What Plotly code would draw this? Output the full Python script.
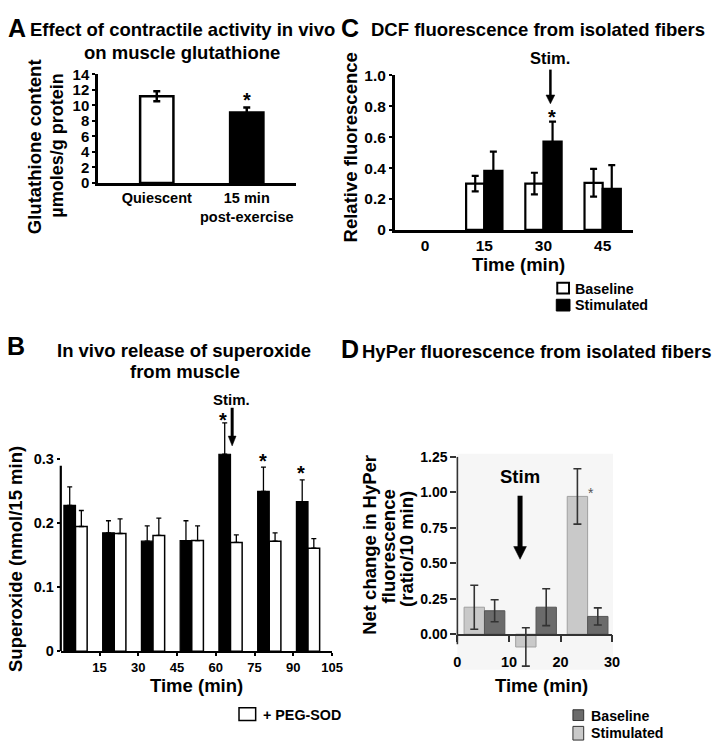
import plotly.graph_objects as go

W, H = 722, 751
FONT = "Liberation Sans, Arial, sans-serif"

# ---------------- data ----------------
# Panel A
a_categories = ["Quiescent", "15 min<br>post-exercise"]
a_values = [11.2, 9.1]
a_errors = [0.65, 0.65]
a_ticks = [0, 2, 4, 6, 8, 10, 12, 14]

# Panel B (interval start times, min)
b_time = [0, 15, 30, 45, 60, 75, 90]
b_control = [0.228, 0.185, 0.172, 0.173, 0.308, 0.250, 0.234]
b_control_err = [0.029, 0.019, 0.024, 0.031, 0.049, 0.038, 0.034]
b_pegsod = [0.195, 0.184, 0.181, 0.173, 0.170, 0.172, 0.161]
b_pegsod_err = [0.025, 0.023, 0.027, 0.023, 0.012, 0.013, 0.015]
b_xticks = [15, 30, 45, 60, 75, 90, 105]
b_yticks = [0, 0.1, 0.2, 0.3]
b_yticktext = ["0", "0.1", "0.2", "0.3"]

# Panel C
c_time = [0, 15, 30, 45]
c_baseline = [None, 0.30, 0.30, 0.305]
c_baseline_err = [None, 0.05, 0.07, 0.09]
c_stim = [None, 0.382, 0.571, 0.266]
c_stim_err = [None, 0.125, 0.13, 0.153]
c_yticks = [0, 0.2, 0.4, 0.6, 0.8, 1.0]
c_yticktext = ["0", "0.2", "0.4", "0.6", "0.8", "1.0"]

# Panel D (interval start times, min)
d_time = [0, 10, 20]
d_stim = [0.19, -0.09, 0.97]
d_stim_err = [0.155, 0.135, 0.195]
d_baseline = [0.165, 0.19, 0.125]
d_baseline_err = [0.077, 0.13, 0.06]
d_yticks = [0, 0.25, 0.5, 0.75, 1.0, 1.25]
d_xticks = [0, 10, 20, 30]


def px(x):
    return x / W


def py(y):
    return 1 - y / H


def f(size, color="black", bold=True):
    return dict(family=FONT, size=size, color=color, weight="bold" if bold else "normal")


fig = go.Figure()

# ---------------- Panel A ----------------
fig.add_trace(go.Bar(
    x=a_categories, y=a_values, width=0.37,
    marker=dict(color=["white", "black"], line=dict(color="black", width=2.5)),
    error_y=dict(type="data", array=a_errors, color="black", thickness=2.5, width=3.5),
    xaxis="x", yaxis="y", showlegend=False,
))

# ---------------- Panel C ----------------
fig.add_trace(go.Bar(
    x=c_time, y=c_baseline, offset=-4.6, width=4.6, name="Baseline",
    marker=dict(color="white", line=dict(color="black", width=2.2)),
    error_y=dict(type="data", array=c_baseline_err, color="black", thickness=2.2, width=3.5),
    xaxis="x2", yaxis="y2", showlegend=False,
))
fig.add_trace(go.Bar(
    x=c_time, y=c_stim, offset=0, width=4.6, name="Stimulated",
    marker=dict(color="black", line=dict(color="black", width=2.2)),
    error_y=dict(type="data", array=c_stim_err, color="black", thickness=2.2, width=3.5),
    xaxis="x2", yaxis="y2", showlegend=False,
))

# ---------------- Panel B ----------------
zeros_b = [0] * len(b_time)
fig.add_trace(go.Bar(
    x=b_time, y=b_control, offset=1.2, width=4.5, name="Control",
    marker=dict(color="black", line=dict(color="black", width=1.2)),
    error_y=dict(type="data", symmetric=False, array=b_control_err, arrayminus=zeros_b,
                 color="black", thickness=1.3, width=2.5),
    xaxis="x3", yaxis="y3", showlegend=False,
))
fig.add_trace(go.Bar(
    x=b_time, y=b_pegsod, offset=5.7, width=4.5, name="+ PEG-SOD",
    marker=dict(color="white", line=dict(color="black", width=1.5)),
    error_y=dict(type="data", symmetric=False, array=b_pegsod_err, arrayminus=zeros_b,
                 color="black", thickness=1.3, width=2.5),
    xaxis="x3", yaxis="y3", showlegend=False,
))

# ---------------- Panel D ----------------
fig.add_trace(go.Bar(
    x=d_time, y=d_stim, offset=1.3, width=3.95, name="Stimulated",
    marker=dict(color="#c9c9c9", line=dict(color="#a0a0a0", width=1)),
    error_y=dict(type="data", array=d_stim_err, color="#333333", thickness=1.6, width=4),
    xaxis="x4", yaxis="y4", showlegend=False,
))
fig.add_trace(go.Bar(
    x=d_time, y=d_baseline, offset=5.25, width=3.95, name="Baseline",
    marker=dict(color="#6b6b6b", line=dict(color="#555555", width=1)),
    error_y=dict(type="data", array=d_baseline_err, color="#333333", thickness=1.6, width=4),
    xaxis="x4", yaxis="y4", showlegend=False,
))

# ---------------- axes ----------------
layout = dict(
    width=W, height=H,
    margin=dict(l=0, r=0, t=0, b=0),
    paper_bgcolor="white", plot_bgcolor="rgba(0,0,0,0)",
    barmode="overlay",
    font=dict(family=FONT, color="black"),
    showlegend=False,
)

# A
layout["xaxis"] = dict(
    domain=[px(96), px(298)], anchor="y", type="category", range=[-0.653, 1.545],
    showline=True, linecolor="black", linewidth=2.5, ticks="", showgrid=False,
    tickfont=f(14.5), zeroline=False,
)
layout["yaxis"] = dict(
    domain=[py(178), py(67)], anchor="x", range=[0, 14], tickvals=a_ticks,
    showline=True, linecolor="black", linewidth=2.5, ticks="outside", ticklen=3,
    tickwidth=1.5, tickcolor="black", showgrid=False, zeroline=False, tickfont=f(15),
)
# C
layout["xaxis2"] = dict(
    domain=[px(399), px(642)], anchor="y2", range=[-7.7, 52.6], tickvals=c_time,
    showline=True, linecolor="black", linewidth=2.5, ticks="", showgrid=False,
    zeroline=False, tickfont=f(15.5),
)
layout["yaxis2"] = dict(
    domain=[py(226), py(68)], anchor="x2", range=[0, 1.0], tickvals=c_yticks,
    ticktext=c_yticktext, showline=True, linecolor="black", linewidth=2.5,
    ticks="outside", ticklen=3, tickwidth=1.5, tickcolor="black", showgrid=False,
    zeroline=False, tickfont=f(15.5),
)
# B
layout["xaxis3"] = dict(
    domain=[px(58), px(335)], anchor="y3", range=[0, 105], tickvals=b_xticks,
    showline=True, linecolor="black", linewidth=2.2, ticks="outside", ticklen=3,
    tickwidth=1.5, tickcolor="black", showgrid=False, zeroline=False, tickfont=f(13),
)
layout["yaxis3"] = dict(
    domain=[py(657), py(415)], anchor="x3", range=[0, 0.37], tickvals=b_yticks,
    ticktext=b_yticktext, showline=False, ticks="outside", ticklen=3, tickwidth=2,
    tickcolor="black", showgrid=False, zeroline=False, tickfont=f(14.5),
)
# D
layout["xaxis4"] = dict(
    domain=[px(463), px(621)], anchor="free", position=py(640), range=[0, 30],
    tickvals=d_xticks, showline=True, linecolor="#333333", linewidth=1.6,
    ticks="outside", ticklen=7, tickwidth=1.6, tickcolor="#333333", showgrid=False,
    zeroline=False, tickfont=f(14.5), ticklabelstandoff=7,
)
layout["yaxis4"] = dict(
    domain=[py(676), py(458)], anchor="x4", range=[-0.25, 1.25], tickvals=d_yticks,
    tickformat=".2f", showline=False, ticks="outside", ticklen=6, tickwidth=1.6,
    tickcolor="#333333", showgrid=False, zeroline=False, tickfont=f(14),
)

fig.update_layout(**layout)


# ---------------- shapes (axis lines, arrows, legend keys) ----------------
def arrow_shapes(x, y_tail, y_head, shaft, half, length):
    """Solid down-pointing arrow, in page pixels."""
    line = dict(type="line", xref="paper", yref="paper", x0=px(x), x1=px(x),
                y0=py(y_tail), y1=py(y_head - length + 1),
                line=dict(color="black", width=shaft))
    head = dict(type="path", xref="paper", yref="paper",
                path=f"M{px(x - half)},{py(y_head - length)} L{px(x + half)},{py(y_head - length)} "
                     f"L{px(x)},{py(y_head)} Z",
                fillcolor="black", line=dict(color="black", width=0.5))
    return [line, head]


shapes = [
    # D faint plot background
    dict(type="rect", xref="x4 domain", yref="paper", x0=0, x1=1.006, y0=py(676), y1=py(455),
         fillcolor="#f6f6f6", line=dict(width=0), layer="below"),
    # B y-axis line
    dict(type="line", xref="x3 domain", yref="y3", x0=0, x1=0, y0=0, y1=0.29,
         line=dict(color="black", width=2.2)),
    # D y-axis line
    dict(type="line", xref="x4 domain", yref="y4", x0=0, x1=0, y0=-0.07, y1=1.25,
         line=dict(color="#333333", width=1.6)),
    # C legend keys
    dict(type="rect", xref="paper", yref="paper", x0=px(565), x1=px(577), y0=py(291), y1=py(280),
         fillcolor="white", line=dict(color="black", width=2)),
    dict(type="rect", xref="paper", yref="paper", x0=px(564), x1=px(578), y0=py(309), y1=py(297),
         fillcolor="black", line=dict(color="black", width=1)),
    # B legend key
    dict(type="rect", xref="paper", yref="paper", x0=px(240), x1=px(257), y0=py(728), y1=py(715),
         fillcolor="white", line=dict(color="black", width=1.5)),
    # D legend keys
    dict(type="rect", xref="paper", yref="paper", x0=px(581), x1=px(592), y0=py(728), y1=py(717),
         fillcolor="#6b6b6b", line=dict(color="#333333", width=1)),
    dict(type="rect", xref="paper", yref="paper", x0=px(581), x1=px(592), y0=py(748), y1=py(734),
         fillcolor="#c9c9c9", line=dict(color="#333333", width=1)),
]
shapes += arrow_shapes(558, 62, 97, 2.5, 4.5, 9)    # C
shapes += arrow_shapes(233, 408, 447, 3, 4, 10)     # B
shapes += arrow_shapes(527, 498, 563, 5, 6.5, 13)   # D
fig.update_layout(shapes=shapes)


# ---------------- annotations ----------------
def ann(text, x, y, size, xanchor="center", angle=0, color="black", bold=True):
    return dict(text=text, x=px(x), y=py(y), xref="paper", yref="paper", showarrow=False,
                font=f(size, color, bold), xanchor=xanchor, yanchor="middle", textangle=angle)


T = 18.5
annotations = [
    # Panel A
    ann("A", 13, 19, 25),
    ann("Effect of contractile activity in vivo", 182, 21, T),
    ann("on muscle glutathione", 182, 44, T),
    ann("Glutathione content", 31, 141, T, angle=-90),
    ann("µmoles/g protein", 54, 140, 18, angle=-90),
    ann("*", 248, 93.5, 20),
    # Panel C
    ann("C", 353, 19, 25),
    ann("DCF fluorescence from isolated fibers", 545, 21, T),
    ann("Relative fluorescence", 354, 142, T, angle=-90),
    ann("Stim.", 558, 50, 16.5),
    ann("*", 560, 110.5, 20),
    ann("Time (min)", 525, 261, T),
    ann("Baseline", 581, 286, 14.3, xanchor="left"),
    ann("Stimulated", 581, 303, 14.3, xanchor="left"),
    # Panel B
    ann("B", 12, 345, 25),
    ann("In vivo release of superoxide", 184, 349, T),
    ann("from muscle", 185, 371, T),
    ann("Superoxide (nmol/15 min)", 12, 563, T, angle=-90),
    ann("Stim.", 232, 399.5, 15),
    ann("*", 224, 420.5, 20),
    ann("*", 265, 462.5, 20),
    ann("*", 303, 474.5, 20),
    ann("Time (min)", 197, 692, T),
    ann("+ PEG-SOD", 262, 722, 14.3, xanchor="left"),
    # Panel D
    ann("D", 353, 348, 25),
    ann("HyPer fluorescence from isolated fibers", 544, 350, T),
    ann("Net change in HyPer", 373, 548, T, angle=-90),
    ann("fluorescence", 393, 550, T, angle=-90),
    ann("(ratio/10 min)", 411, 552, T, angle=-90),
    ann("Stim", 527, 478, T),
    ann("*", 599, 495, 14, color="#555555", bold=False),
    ann("Time (min)", 549, 692, T),
    ann("Baseline", 597, 723, 14.2, xanchor="left"),
    ann("Stimulated", 597, 741, 14.2, xanchor="left"),
]
fig.update_layout(annotations=annotations)

fig.write_html(
    "out.html",
    config={"displayModeBar": False},
    post_script="document.documentElement.style.margin='0';document.body.style.margin='0';"
                "document.documentElement.style.overflow='hidden';document.body.style.overflow='hidden';",
)
